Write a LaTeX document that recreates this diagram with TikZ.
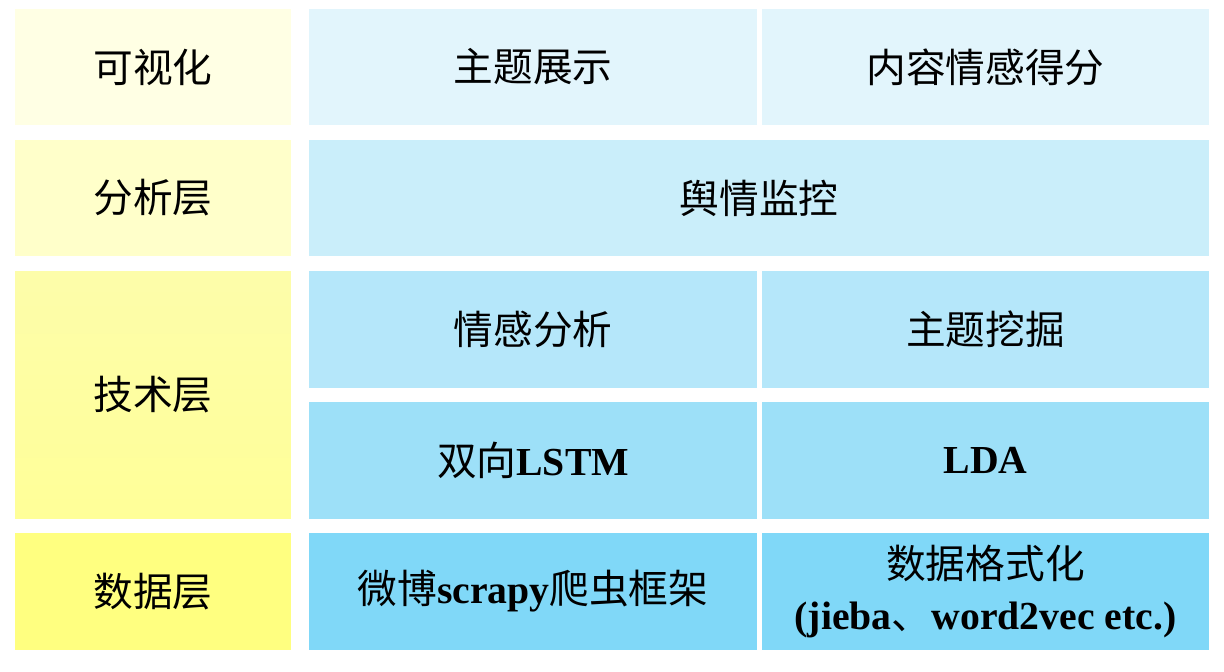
\documentclass[tikz,border=0pt]{standalone}
\usepackage{fontspec}
\setmainfont{Liberation Serif}
\newfontfamily\cjk{Noto Sans CJK SC}
\usetikzlibrary{positioning}

\newcommand{\zh}[1]{{\cjk #1}}
\newcommand{\en}[1]{\textbf{#1}}

\definecolor{ylwA}{HTML}{FFFFE4}
\definecolor{ylwB}{HTML}{FFFFCA}
\definecolor{ylwCt}{HTML}{FDFDAA}
\definecolor{ylwCb}{HTML}{FFFF98}
\definecolor{ylwD}{HTML}{FFFF80}
\definecolor{bluA}{HTML}{E2F5FC}
\definecolor{bluB}{HTML}{CAEEFA}
\definecolor{bluC}{HTML}{B5E7FA}
\definecolor{bluD}{HTML}{9DE0F8}
\definecolor{bluE}{HTML}{80D8F8}

\begin{document}
\begin{tikzpicture}[x=0.02cm, y=-0.02cm,
  cell/.style={inner sep=0pt, align=center,
    font=\fontsize{22.6}{35}\selectfont},
  layer/.style={cell, minimum width=5.52cm},
  half/.style={cell, minimum width=8.96cm, minimum height=2.34cm},
  full/.style={cell, minimum width=18cm, minimum height=2.32cm}]
  \useasboundingbox (0,0) rectangle (1224,672);
  % Layer names (left column)
  \node[layer, fill=ylwA, minimum height=2.32cm] (vis) at (153,67) {\zh{可视化}};
  \node[layer, fill=ylwB, minimum height=2.32cm] (ana) at (153,198) {\zh{分析层}};
  \node[layer, top color=ylwCt, bottom color=ylwCb, minimum height=4.96cm] (tech) at (153,395) {\zh{技术层}};
  \node[layer, fill=ylwD, minimum height=2.34cm] (data) at (153,591.5) {\zh{数据层}};
  % Visualisation row
  \node[half, fill=bluA, minimum height=2.32cm] (topic) at (533,67) {\zh{主题展示}};
  \node[half, fill=bluA, minimum height=2.32cm] (score) at (985.5,67) {\zh{内容情感得分}};
  % Analysis row
  \node[full, fill=bluB] (monitor) at (759,198) {\zh{舆情监控}};
  % Technique rows
  \node[half, fill=bluC] (senti) at (533,329.5) {\zh{情感分析}};
  \node[half, fill=bluC] (mining) at (985.5,329.5) {\zh{主题挖掘}};
  \node[half, fill=bluD] (lstm) at (533,460.5) {\zh{双向}\en{LSTM}};
  \node[half, fill=bluD] (lda) at (985.5,460.5) {\en{LDA}};
  % Data row
  \node[half, fill=bluE] (crawl) at (533,591.5) {\zh{微博}\en{scrapy}\zh{爬虫框架}};
  \node[half, fill=bluE] (format) at (985.5,591.5)
    {\zh{数据格式化}\\[-6pt]\en{(jieba}\zh{、}\en{word2vec etc.)}};
\end{tikzpicture}
\end{document}
